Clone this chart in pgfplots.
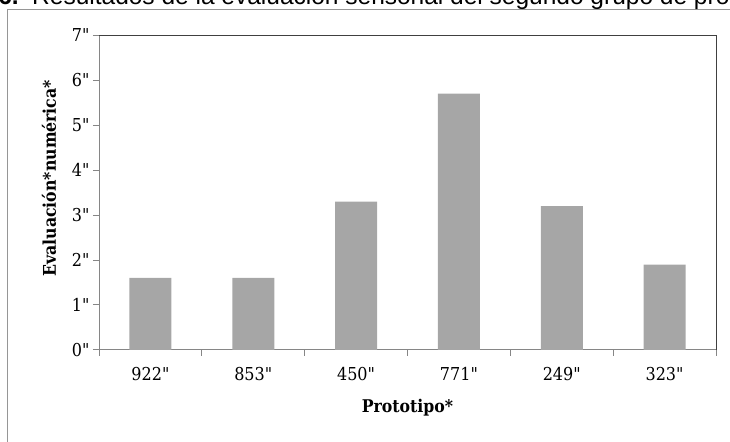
\documentclass[border=0pt]{standalone}
\usepackage{fontspec}
\setmainfont{DejaVu Serif}[FakeStretch=0.9, Ligatures=TeXOff]
\newfontfamily\titlefont{Liberation Sans}
\usepackage{pgfplots}
\pgfplotsset{compat=1.18}
\definecolor{bargray}{RGB}{166,166,166}
\definecolor{axgray}{RGB}{134,134,134}
\definecolor{framegray}{RGB}{150,150,150}
\definecolor{boxdark}{RGB}{64,64,64}

\begin{document}
\begin{tikzpicture}
\begin{scope}
\clip (0bp,0bp) rectangle (730bp,442bp);
% outer frame of the figure, cut by the image edges
\draw[framegray, line width=1bp] (7.5bp,-20bp) -- (7.5bp,432.5bp) -- (760bp,432.5bp);
% caption, cut at the top
\node[anchor=base east, inner sep=0pt, font=\titlefont\fontsize{24.5bp}{28bp}\selectfont\bfseries] at (19bp,437bp) {6.};
\node[anchor=base west, inner sep=0pt, font=\titlefont\fontsize{24.5bp}{28bp}\selectfont] at (32bp,437bp) {Resultados de la evaluación sensorial del segundo grupo de prototipos};
\begin{axis}[
  at={(99bp,92bp)}, anchor=south west,
  scale only axis, width=617bp, height=315bp,
  ybar, bar width=42bp,
  xmin=-0.5, xmax=5.5, ymin=0, ymax=7,
  axis lines*=left,
  clip=false,
  xtick={0,...,5},
  xticklabels={922",853",450",771",249",323"},
  major x tick style={draw=none},
  minor xtick={-0.5,0.5,...,5.5},
  ytick={0,...,7},
  yticklabels={0",1",2",3",4",5",6",7"},
  tick align=outside,
  major tick length=6bp, minor tick length=6bp,
  tick style={axgray, line width=1bp},
  axis line style={axgray, line width=1bp},
  ticklabel style={font=\fontsize{17.8bp}{20bp}\selectfont},
  xticklabel style={anchor=center, yshift=-18bp},
  yticklabel style={anchor=east},
  xlabel={Prototipo*},
  ylabel={Evaluación*numérica*},
  label style={font=\bfseries\fontsize{17.5bp}{20bp}\selectfont},
  xlabel style={at={(axis description cs:0.5,-0.184)}, anchor=center},
  ylabel style={at={(axis description cs:-0.081,0.545)}, anchor=center},
]
\addplot[fill=bargray, draw=none] coordinates {
  (0,1.6) (1,1.6) (2,3.3) (3,5.7) (4,3.2) (5,1.9)
};
\draw[boxdark, line width=1bp] (rel axis cs:0,1) -- (rel axis cs:1,1) -- (rel axis cs:1,0);
\end{axis}
\end{scope}
\pgfresetboundingbox
\path[use as bounding box] (0bp,0bp) rectangle (730bp,442bp);
\end{tikzpicture}
\end{document}
